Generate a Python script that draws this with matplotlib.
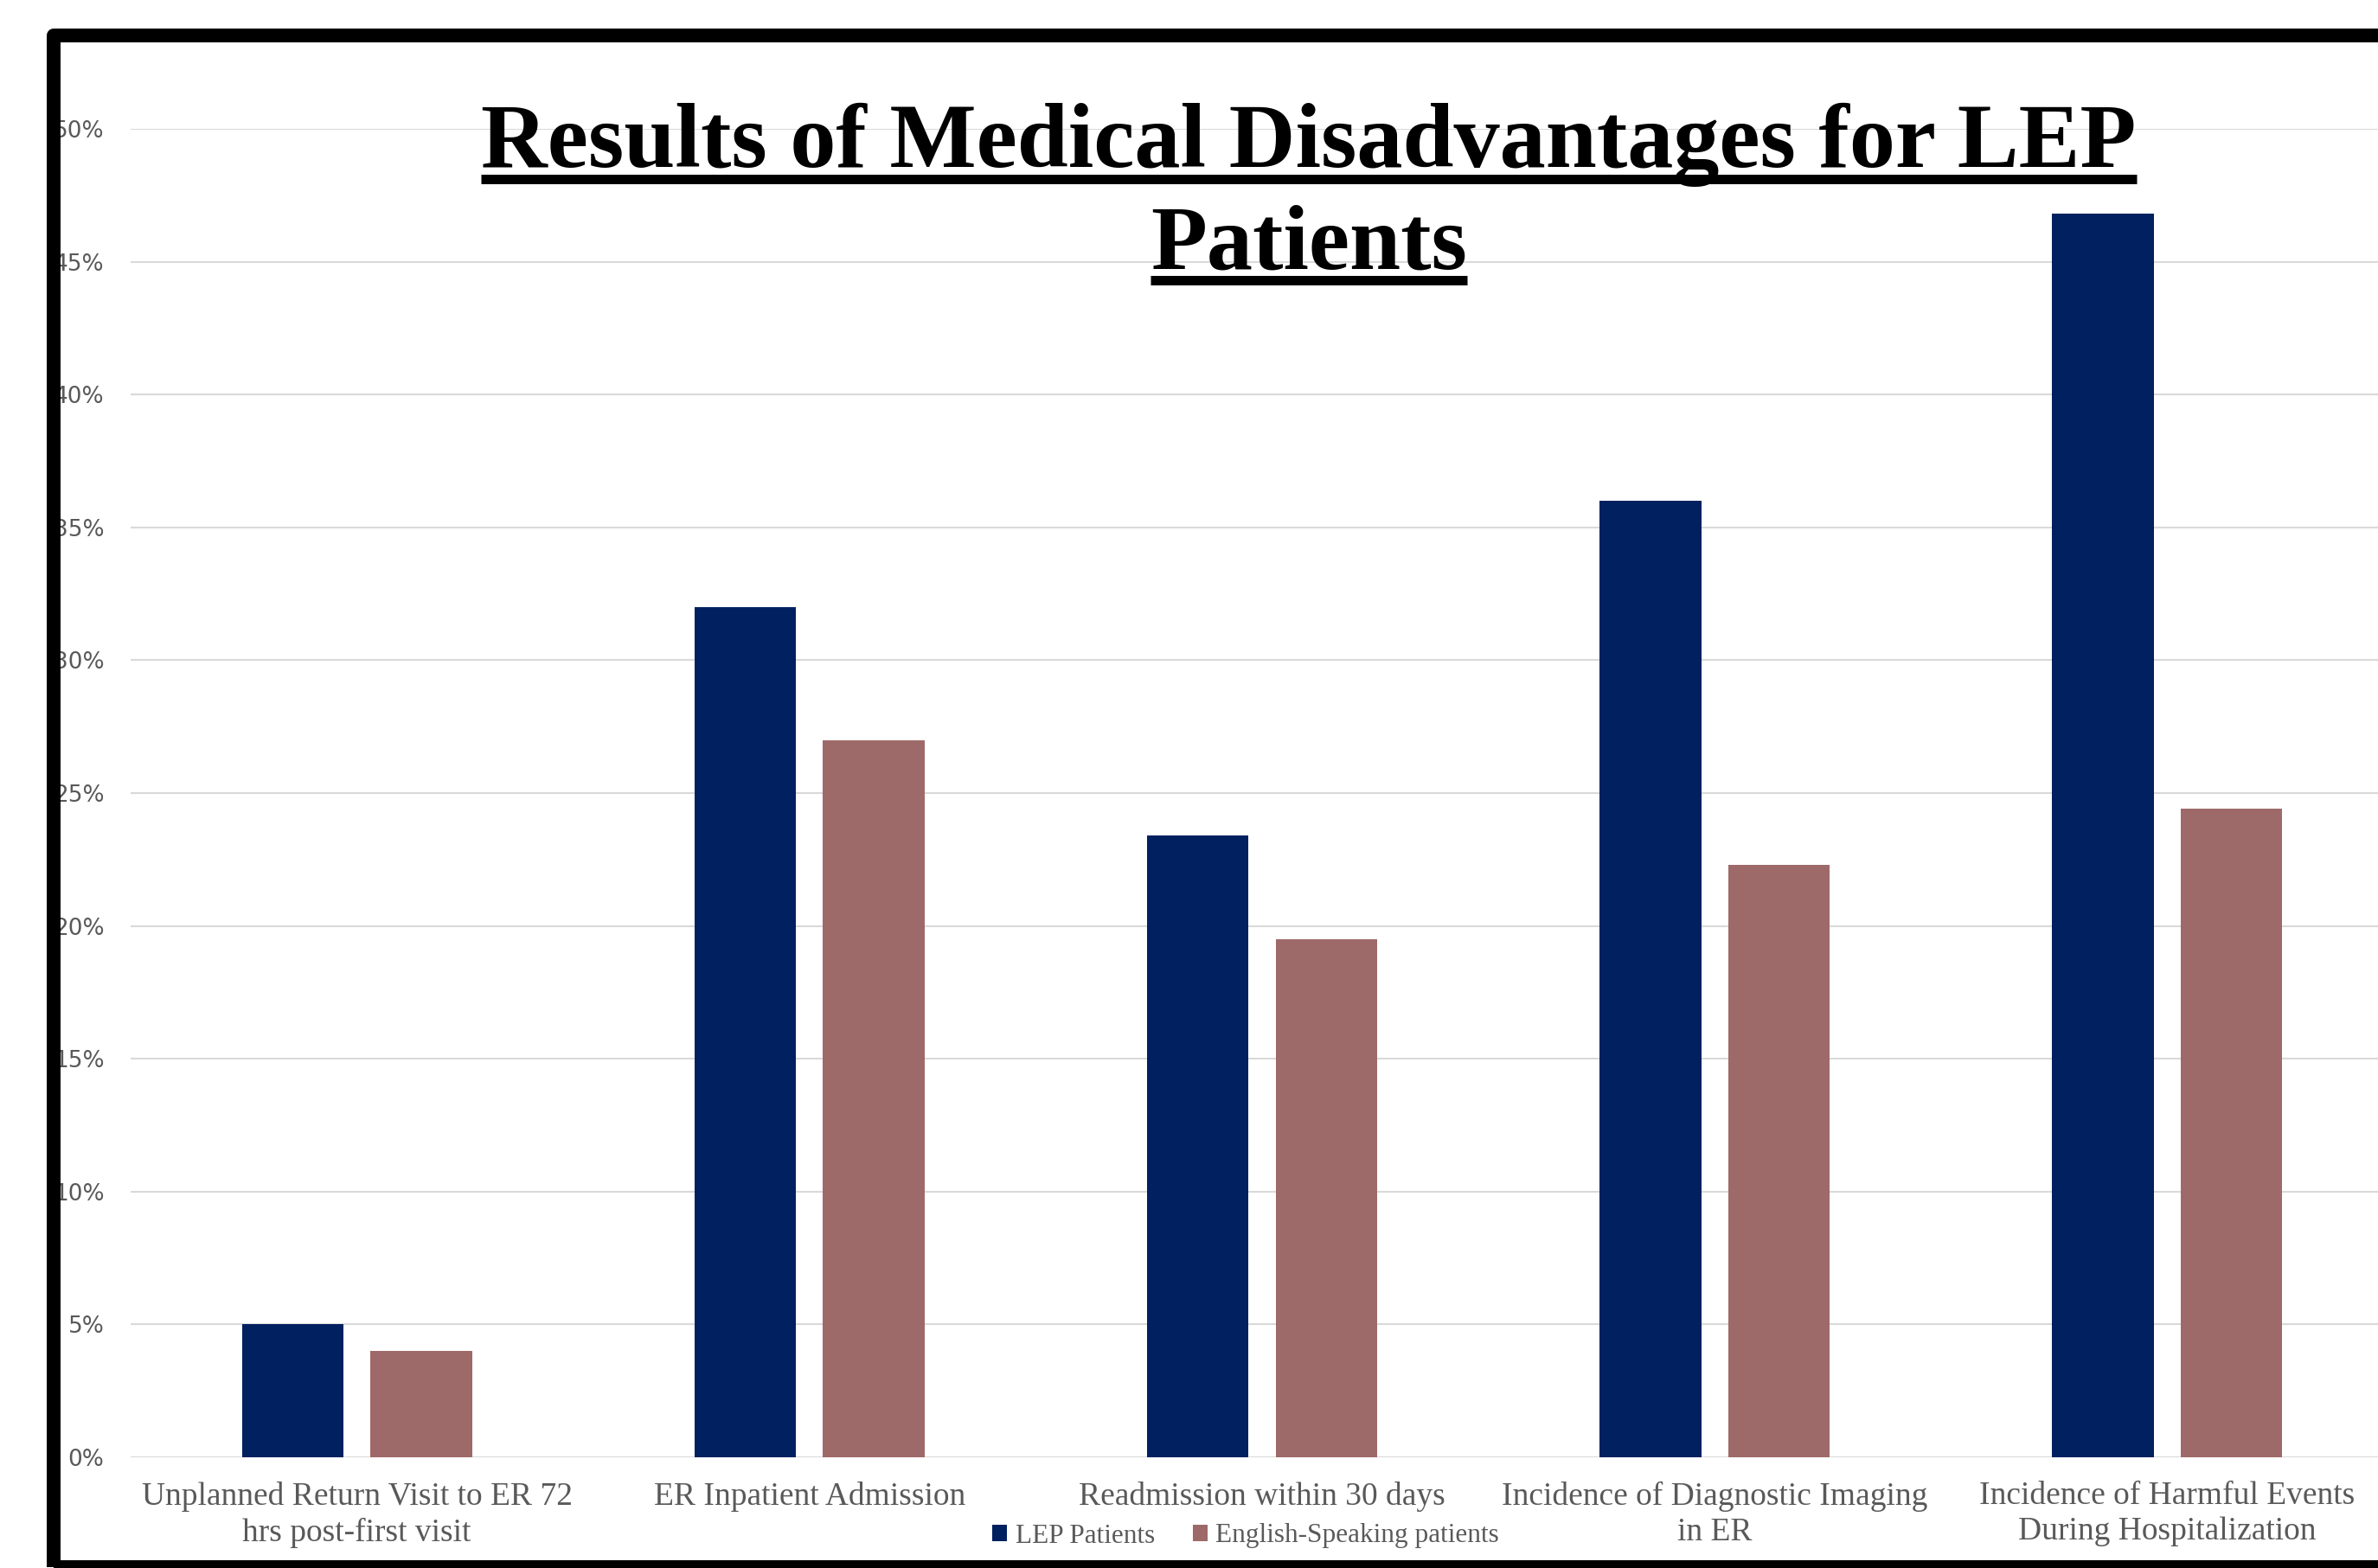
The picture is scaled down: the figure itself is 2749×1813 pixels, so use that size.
import numpy as np
import matplotlib
matplotlib.use("Agg")
from matplotlib import pyplot as plt
from matplotlib.patches import Rectangle
from matplotlib.lines import Line2D

categories = [
    "Unplanned Return Visit to ER 72\nhrs post-first visit",
    "ER Inpatient Admission",
    "Readmission within 30 days",
    "Incidence of Diagnostic Imaging\nin ER",
    "Incidence of Harmful Events\nDuring Hospitalization",
]
lep_values = [5, 32, 23.4, 36, 46.8]
english_values = [4, 27, 19.5, 22.3, 24.4]
series_names = ["LEP Patients", "English-Speaking patients"]
y_ticks = list(range(0, 51, 5))
title_lines = ["Results of Medical Disadvantages for LEP", "Patients"]

W, H = 2749, 1813
fig = plt.figure(figsize=(W / 100, H / 100), dpi=100)
fig.patch.set_facecolor("white")

# plot area runs a bit past the right edge, like the reference
ax = fig.add_axes([151 / W, 1 - 1685 / H, (2767 - 151) / W, (1685 - 149) / H])

x = np.arange(len(categories))
bar_w = 0.2246
off = 0.142
bars_lep = ax.bar(x - off, lep_values, bar_w, color="#002060", zorder=2)
bars_eng = ax.bar(x + off, english_values, bar_w, color="#9d6a69", zorder=2)

ax.set_xlim(-0.5, 4.5)
ax.set_ylim(0, 50)
ax.set_yticks(y_ticks)
ax.set_yticklabels([f"{v}%" for v in y_ticks], fontfamily="DejaVu Sans",
                   fontsize=19, color="#595959")
ax.set_xticks(x)
ax.set_xticklabels(categories, fontfamily="Liberation Serif", fontsize=27,
                   color="#595959", linespacing=1.25)
ax.tick_params(axis="y", length=0, pad=22)
ax.tick_params(axis="x", length=0, pad=20)
ax.grid(axis="y", color="#d9d9d9", linewidth=1.5)
ax.set_axisbelow(True)
for s in ax.spines.values():
    s.set_visible(False)

# legend under the category labels
ax.legend([bars_lep, bars_eng], series_names, loc="center", ncol=2,
          bbox_to_anchor=(1440 / W, 1 - 1776 / H), bbox_transform=fig.transFigure,
          frameon=False, handlelength=0.55, handleheight=0.55,
          handletextpad=0.3, columnspacing=1.4,
          prop={"family": "Liberation Serif", "size": 22.5}, labelcolor="#595959")

# title, two lines, underlined
t1 = fig.text(1513 / W, 1 - 193 / H, title_lines[0], ha="center", va="baseline",
              fontfamily="Liberation Serif", fontweight="bold", fontsize=76.5, color="black")
t2 = fig.text(1513 / W, 1 - 310 / H, title_lines[1], ha="center", va="baseline",
              fontfamily="Liberation Serif", fontweight="bold", fontsize=76.5, color="black")

fig.canvas.draw()
r = fig.canvas.get_renderer()
for t, base in [(t1, 193), (t2, 310)]:
    bb = t.get_window_extent(r)
    yy = H - (base + 14)
    fig.add_artist(Line2D([bb.x0 / W, bb.x1 / W], [yy / H, yy / H],
                          transform=fig.transFigure, color="black", linewidth=7.9,
                          solid_capstyle="butt"))

# thick black frame, right side runs off the image
frame = Rectangle((0.62, 0.01), 30, 17.71, transform=fig.dpi_scale_trans,
                  fill=False, edgecolor="black", linewidth=11.5, joinstyle="round",
                  clip_on=False, zorder=10)
fig.add_artist(frame)

fig.savefig("out.png", dpi=100)
